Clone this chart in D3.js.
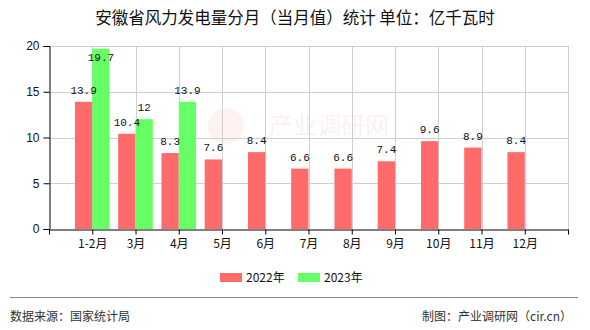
<!DOCTYPE html>
<html>
<head>
<meta charset="utf-8">
<script src="https://cdn.jsdelivr.net/npm/d3@7/dist/d3.min.js"></script>
<style>
  html, body { margin: 0; padding: 0; background: #fff; }
  svg { display: block; }
</style>
</head>
<body>
<svg id="chart" width="590" height="330"></svg>
<script>
// Monthly wind power generation, Anhui province (100 million kWh)
const months = ["1-2月", "3月", "4月", "5月", "6月", "7月", "8月", "9月", "10月", "11月", "12月"];
const values2022 = [13.9, 10.4, 8.3, 7.6, 8.4, 6.6, 6.6, 7.4, 9.6, 8.9, 8.4];
const values2023 = [19.7, 12, 13.9];
const seriesNames = ["2022年", "2023年"];
const seriesColors = ["#FF6A6A", "#66FF66"];
const yTicks = [0, 5, 10, 15, 20];

const svg = d3.select("#chart");
const plot = { left: 49, right: 568, top: 46, bottom: 229 };

// Category slots: one empty slot each side, ticks at slot centres
const x = d3.scaleLinear().domain([0, months.length + 1]).range([plot.left, plot.right]);
const slot = x(1) - x(0);
const barW = slot * 0.4;
const y = d3.scaleLinear().domain([0, 20]).range([plot.bottom, plot.top]);

// Title
svg.append("text")
  .attr("x", 295).attr("y", 24)
  .attr("text-anchor", "middle")
  .attr("font-family", "'Noto Sans CJK SC', sans-serif")
  .attr("font-size", 16.5)
  .attr("fill", "#111")
  .text("安徽省风力发电量分月（当月值）统计 单位：亿千瓦时");

// Faint site watermark
const wm = svg.append("g").attr("opacity", 0.07);
wm.append("circle").attr("cx", 226).attr("cy", 126).attr("r", 18).attr("fill", "#e33");
wm.append("text").attr("x", 269).attr("y", 134)
  .attr("font-family", "'Noto Sans CJK SC', sans-serif").attr("font-size", 24)
  .attr("fill", "#c44").text("产业调研网");

// Grid lines
const grid = svg.append("g").attr("stroke", "#cfcfcf").attr("stroke-width", 1);
yTicks.filter(t => t > 0).forEach(t => {
  grid.append("line")
    .attr("x1", plot.left).attr("x2", plot.right)
    .attr("y1", Math.round(y(t)) + 0.5).attr("y2", Math.round(y(t)) + 0.5);
});
d3.range(1, months.length + 2).forEach(i => {
  grid.append("line")
    .attr("x1", Math.round(x(i)) + 0.5).attr("x2", Math.round(x(i)) + 0.5)
    .attr("y1", plot.top).attr("y2", plot.bottom);
});

// Bars
const series = [values2022, values2023];
series.forEach((vals, s) => {
  svg.append("g").selectAll("rect")
    .data(vals)
    .join("rect")
    .attr("x", (d, i) => x(i + 1) - barW + s * barW)
    .attr("y", d => y(d))
    .attr("width", barW)
    .attr("height", d => plot.bottom - y(d))
    .attr("fill", seriesColors[s]);
});

// Value labels (kept inside the plot when a bar reaches the top)
series.forEach((vals, s) => {
  svg.append("g").selectAll("text")
    .data(vals)
    .join("text")
    .attr("x", (d, i) => x(i + 1) - barW / 2 + s * barW)
    .attr("y", d => Math.max(y(d) - 8, plot.top + 15))
    .attr("text-anchor", "middle")
    .attr("font-family", "'Liberation Mono', 'DejaVu Sans Mono', monospace")
    .attr("font-size", 11)
    .attr("fill", "#111")
    .text(d => d);
});

// Y axis
const yAxis = d3.axisLeft(y).tickValues(yTicks).tickSize(6).tickPadding(4);
svg.append("g")
  .attr("transform", `translate(${plot.left + 0.5},0)`)
  .call(yAxis)
  .call(g => g.selectAll("text").attr("font-family", "'Liberation Sans', Arial, sans-serif").attr("font-size", 12).attr("fill", "#111"))
  .call(g => g.selectAll("line,path").attr("stroke", "#000"));

// X axis
const xAxis = d3.axisBottom(x)
  .tickValues(d3.range(0, months.length + 2))
  .tickSize(5)
  .tickSizeOuter(0)
  .tickPadding(5)
  .tickFormat(i => (i >= 1 && i <= months.length) ? months[i - 1] : "");
svg.append("g")
  .attr("transform", `translate(0,${plot.bottom + 0.5})`)
  .call(xAxis)
  .call(g => g.selectAll("text").attr("font-family", "'Noto Sans CJK SC', sans-serif").attr("font-size", 12).attr("fill", "#111"))
  .call(g => g.selectAll("line,path").attr("stroke", "#000"));

// Legend
const legendX = [220, 298];
seriesNames.forEach((name, s) => {
  svg.append("rect")
    .attr("x", legendX[s]).attr("y", 273)
    .attr("width", 22).attr("height", 9)
    .attr("fill", seriesColors[s]);
  svg.append("text")
    .attr("x", legendX[s] + 26).attr("y", 282)
    .attr("font-family", "'Noto Sans CJK SC', sans-serif")
    .attr("font-size", 12)
    .attr("fill", "#111")
    .text(name);
});

// Footer
svg.append("line")
  .attr("x1", 10).attr("x2", 578).attr("y1", 297.5).attr("y2", 297.5)
  .attr("stroke", "#888").attr("stroke-width", 1);
svg.append("text")
  .attr("x", 10).attr("y", 321)
  .attr("font-family", "'Noto Sans CJK SC', sans-serif")
  .attr("font-size", 12).attr("fill", "#333")
  .text("数据来源：国家统计局");
svg.append("text")
  .attr("x", 572).attr("y", 321)
  .attr("text-anchor", "end")
  .attr("font-family", "'Noto Sans CJK SC', sans-serif")
  .attr("font-size", 12).attr("fill", "#333")
  .text("制图：产业调研网（cir.cn）");
</script>
</body>
</html>
